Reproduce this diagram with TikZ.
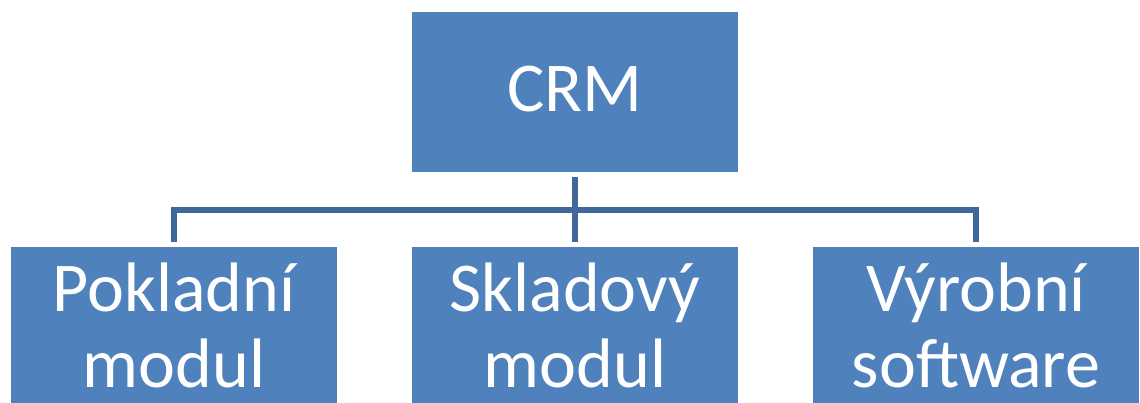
\documentclass[tikz,border=0pt]{standalone}
\usepackage{fontspec}
\setmainfont{Carlito}
\definecolor{boxblue}{HTML}{4F81BD}
\definecolor{lineblue}{HTML}{41689A}
\begin{document}
\begin{tikzpicture}[x=1pt,y=-1pt,
  box/.style={draw=none,fill=boxblue,minimum width=326pt,minimum height=160pt,inner sep=0pt,anchor=north west},
  lbl/.style={text=white,inner sep=0pt,anchor=base,font=\fontsize{70}{76}\selectfont},
  conn/.style={draw=lineblue,line width=6pt,shorten <=5pt,shorten >=5pt}]
\useasboundingbox (0,0) rectangle (1140,403);
\clip (0,0) rectangle (1140,403);
\node[box] (top) at (412,12) {};
\node[box] (left) at (11,247) {};
\node[box] (mid) at (412,247) {};
\node[box] (right) at (813,247) {};
\node[lbl] (tcrm) at (575,112) {CRM};
\node[lbl] (tl1) at (174,311) {Pokladní};
\node[lbl] (tl2) at (174,387) {modul};
\node[lbl] (tm1) at (575,311) {Skladový};
\node[lbl] (tm2) at (575,387) {modul};
\node[lbl] (tr1) at (976,311) {Výrobní};
\node[lbl] (tr2) at (976,387) {software};
\draw[conn] (top.south) -- (mid.north);
\draw[conn] (left.north) -- ++(0,-37) -| (right.north);
\end{tikzpicture}
\end{document}
